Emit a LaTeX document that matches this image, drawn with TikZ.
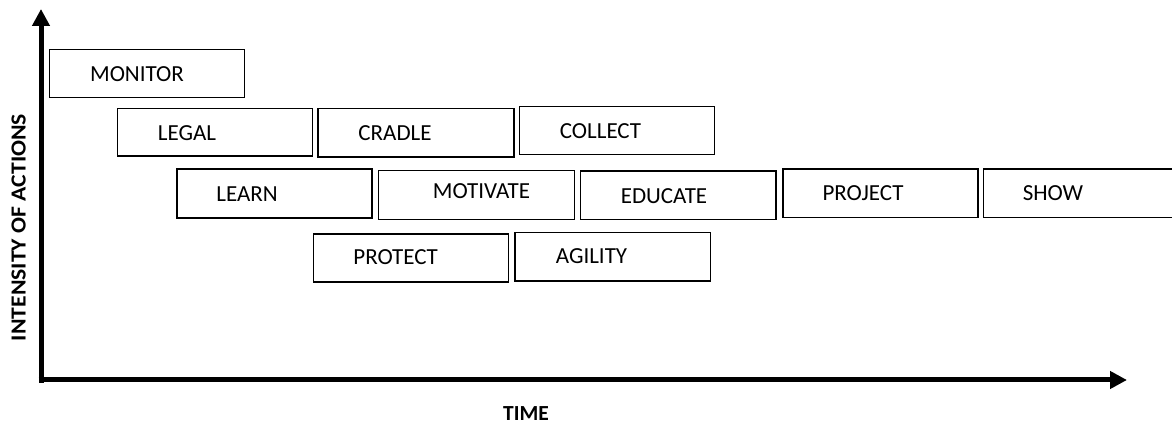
\documentclass[tikz,border=0pt]{standalone}
\usepackage{fontspec}
\setmainfont{Carlito}
\usetikzlibrary{arrows.meta}
\begin{document}
\begin{tikzpicture}[x=1pt,y=1pt,
  actionbox/.style={draw=black, line width=1.3pt, fill=none},
  boxtext/.style={anchor=base, inner sep=0pt, font=\fontsize{23}{27}\selectfont},
  axis/.style={line width=5pt, line cap=butt, -{Triangle[length=17pt,width=17pt]}},
  axislabel/.style={inner sep=0pt, font=\fontsize{21.5}{25}\selectfont\bfseries}]
\useasboundingbox (0,0) rectangle (1172,425);

% action boxes: corners given as (left, bottom) and (right, top)
\draw[actionbox] (49.7,327.2) rectangle (244.8,375.3) coordinate (monitor);
\draw[actionbox] (117.7,268.9) rectangle (312.3,316.6) coordinate (legal);
\draw[actionbox] (318.0,268.0) rectangle (514.0,316.6) coordinate (cradle);
\draw[actionbox] (519.7,270.4) rectangle (714.6,318.6) coordinate (collect);
\draw[actionbox] (177.0,207.0) rectangle (372.0,256.0) coordinate (learn);
\draw[actionbox] (378.7,205.7) rectangle (574.3,254.3) coordinate (motivate);
\draw[actionbox] (580.7,205.7) rectangle (776.0,254.0) coordinate (educate);
\draw[actionbox] (783.0,207.4) rectangle (978.0,256.0) coordinate (project);
\draw[actionbox] (983.4,207.4) rectangle (1178.0,256.0) coordinate (show);
\draw[actionbox] (313.4,143.0) rectangle (508.6,191.0) coordinate (protect);
\draw[actionbox] (515.0,144.0) rectangle (710.3,192.6) coordinate (agility);

% labels inside the boxes (base line = cap centre lowered by half the cap height)
\node[boxtext] (monitor-t)  at (137.0,343.4) {MONITOR};
\node[boxtext] (legal-t)    at (187.0,284.6) {LEGAL};
\node[boxtext] (cradle-t)   at (395.0,284.9) {CRADLE};
\node[boxtext] (collect-t)  at (600.5,286.9) {COLLECT};
\node[boxtext] (learn-t)    at (247.0,223.6) {LEARN};
\node[boxtext] (motivate-t) at (481.5,226.6) {MOTIVATE};
\node[boxtext] (educate-t)  at (664.0,221.6) {EDUCATE};
\node[boxtext] (project-t)  at (863.0,224.9) {PROJECT};
\node[boxtext] (show-t)     at (1053.0,224.9) {SHOW};
\node[boxtext] (protect-t)  at (395.7,160.9) {PROTECT};
\node[boxtext] (agility-t)  at (591.5,161.9) {AGILITY};

% axes
\coordinate (ybase) at (41,42.3);
\coordinate (ytip)  at (41,416);
\coordinate (xbase) at (38.5,45);
\coordinate (xtip)  at (1127,45);
\draw[axis] (ybase) -- (ytip);
\draw[axis] (xbase) -- (xtip);

% axis titles
\node[axislabel, rotate=90] (ylabel) at (18.6,197.5) {\scalebox{1.1}[1]{INTENSITY OF ACTIONS}};
\node[axislabel] (xlabel) at (526,11.3) {TIME};
\end{tikzpicture}
\end{document}
